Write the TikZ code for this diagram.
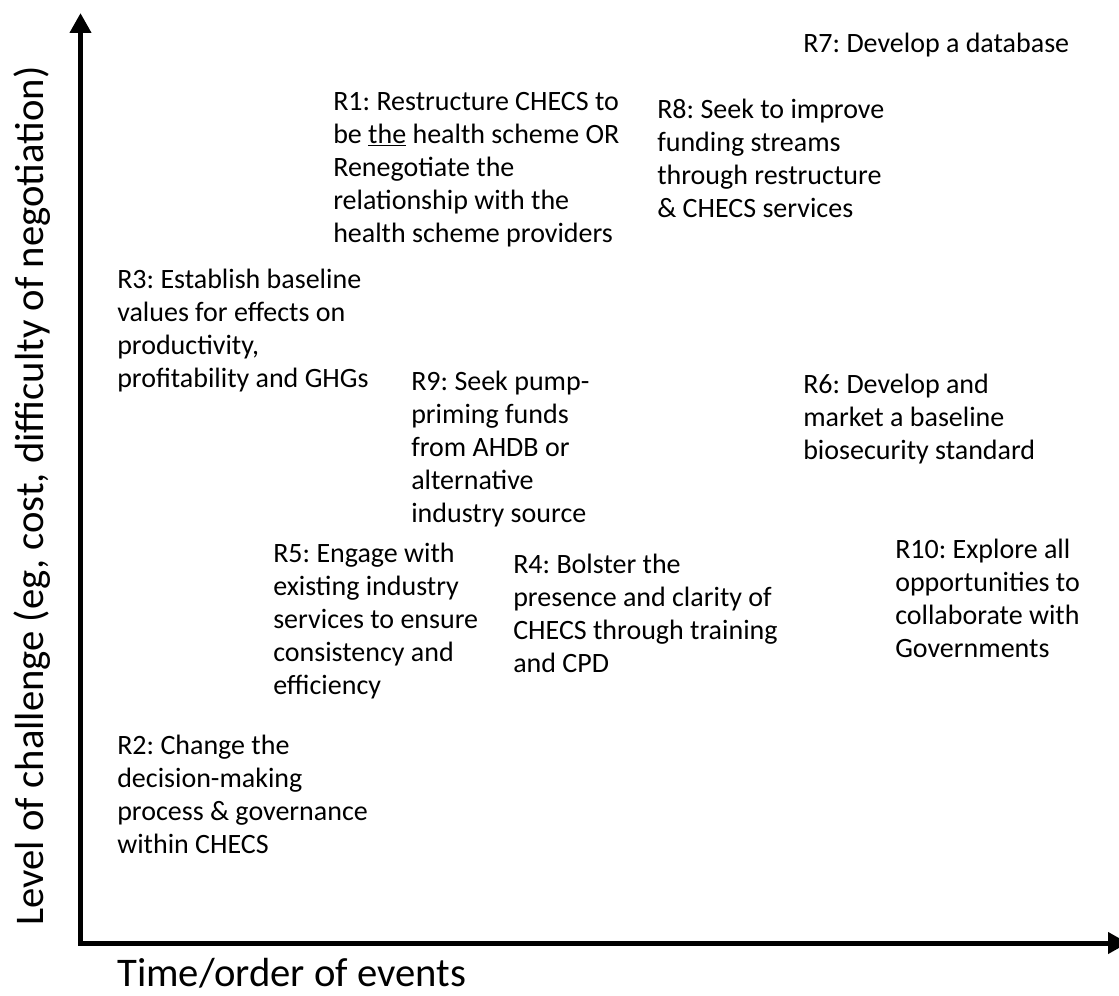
\documentclass[tikz,border=0pt]{standalone}
\usepackage{fontspec}
\setmainfont{Carlito}
\usetikzlibrary{arrows.meta}
\frenchspacing
\tikzset{
  rbox/.style={anchor=base west, align=left, inner sep=0pt, font=\frenchspacing\fontsize{21}{24.75}\selectfont},
  axislabel/.style={inner sep=0pt, font=\fontsize{30.5}{36}\selectfont},
  axisline/.style={line width=3.75pt, line join=miter, {Triangle[width=15.5pt,length=15pt]}-{Triangle[width=15.5pt,length=15pt]}}
}
\begin{document}
\begin{tikzpicture}[x=0.75pt,y=-0.75pt]
\useasboundingbox (0,0) rectangle (1119,995);
\coordinate (ytop) at (80.5,13);
\coordinate (origin) at (80.5,943);
\coordinate (xend) at (1128,943);
\draw[axisline] (ytop) -- (origin) -- (xend);

\node[axislabel, anchor=base west] (xlab) at (117,986) {Time/order of events};
\node[axislabel, rotate=90, anchor=base] (ylab) at (43,496) {Level of challenge (eg, cost, difficulty of negotiation)};

% base anchor of a multi-line node = baseline of its last line
\node[rbox] (r7) at (803,53) {R7: Develop a database};
\node[rbox] (r1) at (333,242) {R1: Restructure CHECS to\\be \underline{the} health scheme OR\\Renegotiate the\\relationship with the\\health scheme providers};
\node[rbox] (r8) at (657,217) {R8: Seek to improve\\funding streams\\through restructure\\\& CHECS services};
\node[rbox] (r3) at (117,387) {R3: Establish baseline\\values for effects on\\productivity,\\profitability and GHGs};
\node[rbox] (r9) at (411,522) {R9: Seek pump-\\priming funds\\from AHDB or\\alternative\\industry source};
\node[rbox] (r6) at (803,459) {R6: Develop and\\market a baseline\\biosecurity standard};
\node[rbox] (r5) at (273,694) {R5: Engage with\\existing industry\\services to ensure\\consistency and\\efficiency};
\node[rbox] (r4) at (513,672) {R4: Bolster the\\presence and clarity of\\CHECS through training\\and CPD};
\node[rbox] (r10) at (895,657) {R10: Explore all\\opportunities to\\collaborate with\\Governments};
\node[rbox] (r2) at (117,853) {R2: Change the\\decision-making\\process \& governance\\within CHECS};
\end{tikzpicture}
\end{document}
